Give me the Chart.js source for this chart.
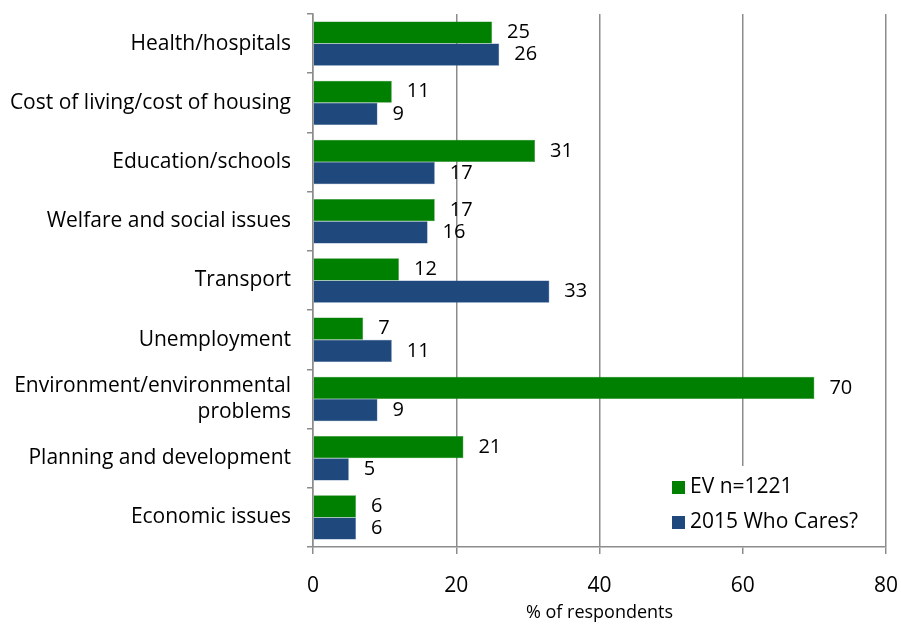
<!DOCTYPE html>
<html>
<head>
<meta charset="utf-8">
<script src="https://cdn.jsdelivr.net/npm/chart.js@4/dist/chart.umd.min.js"></script>
<style>
  html, body { margin: 0; padding: 0; background: #fff; }
  #wrap { width: 901px; height: 626px; }
</style>
</head>
<body>
<div id="wrap"><canvas id="chart" width="901" height="626"></canvas></div>
<script>
const categories = [
  'Health/hospitals',
  'Cost of living/cost of housing',
  'Education/schools',
  'Welfare and social issues',
  'Transport',
  'Unemployment',
  ['Environment/environmental', 'problems'],
  'Planning and development',
  'Economic issues'
];
const evValues = [25, 11, 31, 17, 12, 7, 70, 21, 6];
const whoCaresValues = [26, 9, 17, 16, 33, 11, 9, 5, 6];
const xTicks = [0, 20, 40, 60, 80];

const FONT = '"Open Sans", Lato, sans-serif';
const GREEN = '#008000';
const BLUE = '#1F497D';
const GRID = '#8c8c8c';

// value labels at the end of each bar
const barLabels = {
  id: 'barLabels',
  afterDatasetsDraw(chart) {
    const ctx = chart.ctx;
    ctx.save();
    ctx.font = '20px ' + FONT;
    ctx.fillStyle = '#000';
    ctx.textAlign = 'left';
    ctx.textBaseline = 'middle';
    chart.data.datasets.forEach((ds, i) => {
      chart.getDatasetMeta(i).data.forEach((bar, j) => {
        ctx.fillText(ds.data[j], bar.x + 15, bar.y);
      });
    });
    ctx.restore();
  }
};

// legend inside the plot, bottom right
const innerLegend = {
  id: 'innerLegend',
  afterDraw(chart) {
    const ctx = chart.ctx;
    const area = chart.chartArea;
    const x0 = area.right - 222, y0 = area.bottom - 81;
    ctx.save();
    ctx.fillStyle = '#fff';
    ctx.fillRect(x0 - 10, y0, 222, 80);
    ctx.font = '21px ' + FONT;
    ctx.textBaseline = 'middle';
    chart.data.datasets.forEach((ds, i) => {
      const y = y0 + 21 + i * 35;
      ctx.fillStyle = ds.backgroundColor;
      ctx.fillRect(x0 + 8, y - 6, 13, 13);
      ctx.fillStyle = '#000';
      ctx.fillText(ds.label, x0 + 26, y);
    });
    ctx.restore();
  }
};

new Chart(document.getElementById('chart'), {
  type: 'bar',
  data: {
    labels: categories,
    datasets: [
      { label: 'EV n=1221', data: evValues, backgroundColor: GREEN, borderColor: '#2e8b2e', borderWidth: 0.5 },
      { label: '2015 Who Cares?', data: whoCaresValues, backgroundColor: BLUE, borderColor: '#3b6296', borderWidth: 0.5 }
    ]
  },
  options: {
    indexAxis: 'y',
    responsive: false,
    animation: false,
    layout: { padding: { top: 14, right: 15, left: 0, bottom: 0 } },
    datasets: { bar: { categoryPercentage: 0.75, barPercentage: 1.0 } },
    scales: {
      x: {
        min: 0,
        max: 80,
        afterBuildTicks(axis) { axis.ticks = xTicks.map(v => ({ value: v })); },
        grid: { color: GRID, lineWidth: 1.5, tickLength: 7 },
        border: { color: GRID, width: 1.5 },
        ticks: { font: { family: FONT, size: 21 }, color: '#000', padding: 19 },
        title: { display: true, text: '% of respondents', font: { family: FONT, size: 18 }, color: '#000', padding: { top: 0, bottom: 2 } },
        afterFit(axis) { axis.height = 79; axis.paddingLeft = 0; axis.paddingRight = 0; }
      },
      y: {
        grid: { drawOnChartArea: false, color: GRID, lineWidth: 1.5, tickLength: 6 },
        border: { color: GRID, width: 1.5 },
        ticks: { font: { family: FONT, size: 21, lineHeight: 1.2 }, color: '#000', padding: 16 },
        afterFit(axis) { axis.width = 313; axis.paddingTop = 0; axis.paddingBottom = 0; }
      }
    },
    plugins: {
      legend: { display: false },
      tooltip: { enabled: false }
    }
  },
  plugins: [barLabels, innerLegend]
});
</script>
</body>
</html>
